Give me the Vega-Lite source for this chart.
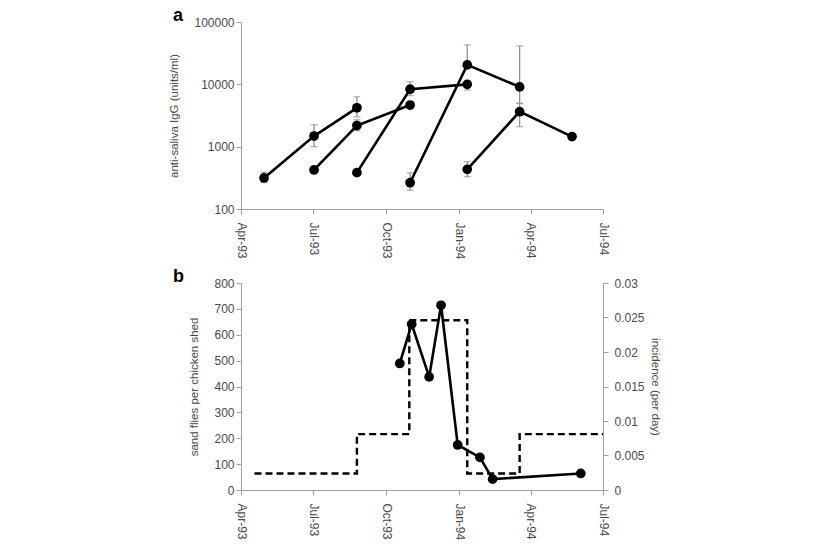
{
  "$schema": "https://vega.github.io/schema/vega-lite/v6.json",
  "background": "white",
  "padding": {"left": 168, "top": 7, "right": 0, "bottom": 0},
  "config": {
    "font": "Liberation Sans",
    "view": {"stroke": null},
    "axis": {
      "grid": false,
      "domainColor": "#a0a0a0",
      "tickColor": "#a0a0a0",
      "labelColor": "#4a4a4a",
      "titleColor": "#4a4a4a",
      "labelFont": "Liberation Sans",
      "titleFont": "Liberation Sans",
      "labelFontSize": 12,
      "titleFontSize": 11.5,
      "titleFontWeight": "normal",
      "tickSize": 5,
      "labelOverlap": false
    },
    "axisX": {"labelPadding": 8},
    "title": {"font": "Liberation Sans", "fontSize": 18, "fontWeight": "bold", "color": "#000000"}
  },
  "datasets": {
    "igg": [
      {"s": "1", "date": "1993-04-30T00:00", "v": 315, "lo": 265, "hi": 390},
      {"s": "1", "date": "1993-07-02T00:00", "v": 1480, "lo": 1000, "hi": 2250},
      {"s": "1", "date": "1993-08-25T00:00", "v": 4200, "lo": 3000, "hi": 6300},
      {"s": "2", "date": "1993-07-02T00:00", "v": 423, "lo": null, "hi": null},
      {"s": "2", "date": "1993-08-25T00:00", "v": 2180, "lo": 1800, "hi": 2700},
      {"s": "2", "date": "1993-10-31T00:00", "v": 4650, "lo": null, "hi": null},
      {"s": "3", "date": "1993-08-25T00:00", "v": 383, "lo": null, "hi": null},
      {"s": "3", "date": "1993-10-31T00:00", "v": 8360, "lo": 6600, "hi": 11000},
      {"s": "3", "date": "1994-01-11T00:00", "v": 10000, "lo": 8100, "hi": 11200},
      {"s": "4", "date": "1993-10-31T00:00", "v": 264, "lo": 200, "hi": 380},
      {"s": "4", "date": "1994-01-11T00:00", "v": 20500, "lo": 20500, "hi": 42800},
      {"s": "4", "date": "1994-03-18T00:00", "v": 9100, "lo": 5000, "hi": 41300},
      {"s": "5", "date": "1994-01-11T00:00", "v": 433, "lo": 330, "hi": 575},
      {"s": "5", "date": "1994-03-18T00:00", "v": 3640, "lo": 2090, "hi": 4900},
      {"s": "5", "date": "1994-05-23T00:00", "v": 1450, "lo": null, "hi": null}
    ],
    "flies": [
      {"date": "1993-10-18T00:00", "n": 489},
      {"date": "1993-11-02T00:00", "n": 641},
      {"date": "1993-11-24T00:00", "n": 437},
      {"date": "1993-12-09T00:00", "n": 714},
      {"date": "1993-12-30T00:00", "n": 174},
      {"date": "1994-01-27T00:00", "n": 126},
      {"date": "1994-02-12T00:00", "n": 42},
      {"date": "1994-06-03T00:00", "n": 64}
    ],
    "incidence": [
      {"date": "1993-04-18T00:00", "inc": 0.0024},
      {"date": "1993-08-25T00:00", "inc": 0.0081},
      {"date": "1993-10-30T00:00", "inc": 0.0246},
      {"date": "1994-01-11T00:00", "inc": 0.0024},
      {"date": "1994-03-18T00:00", "inc": 0.0081},
      {"date": "1994-07-01T00:00", "inc": 0.0081}
    ]
  },
  "spacing": 9,
  "vconcat": [
    {
      "width": 362,
      "height": 187,
      "title": {"text": "a", "anchor": "start", "frame": "group", "dx": -68, "offset": -9},
      "data": {"name": "igg"},
      "encoding": {
        "x": {
          "field": "date", "type": "temporal",
          "scale": {"domain": [{"year": 1993, "month": 4, "date": 1}, {"year": 1994, "month": 7, "date": 1}]},
          "axis": {
            "title": null, "format": "%b-%y", "labelAngle": 90,
            "values": [
              {"year": 1993, "month": 4, "date": 1},
              {"year": 1993, "month": 7, "date": 1},
              {"year": 1993, "month": 10, "date": 1},
              {"year": 1994, "month": 1, "date": 1},
              {"year": 1994, "month": 4, "date": 1},
              {"year": 1994, "month": 7, "date": 1}
            ]
          }
        }
      },
      "layer": [
        {
          "transform": [{"filter": "datum.hi != null"}],
          "mark": {"type": "rule", "color": "#8a8a8a", "strokeWidth": 1.2},
          "encoding": {
            "y": {"field": "lo", "type": "quantitative"},
            "y2": {"field": "hi"}
          }
        },
        {
          "transform": [
            {"fold": ["lo", "hi"], "as": ["k", "e"]},
            {"filter": "datum.e != null && datum.e != datum.v"}
          ],
          "mark": {"type": "tick", "orient": "horizontal", "color": "#8a8a8a", "size": 7, "thickness": 1.2},
          "encoding": {
            "y": {"field": "e", "type": "quantitative"}
          }
        },
        {
          "mark": {"type": "line", "color": "#000000", "strokeWidth": 2.6},
          "encoding": {
            "y": {
              "field": "v", "type": "quantitative",
              "scale": {"type": "log", "domain": [100, 100000]},
              "axis": {"title": "anti-saliva IgG (units/ml)", "values": [100, 1000, 10000, 100000], "format": "d", "titlePadding": 14}
            },
            "detail": {"field": "s"}
          }
        },
        {
          "mark": {"type": "point", "filled": true, "color": "#000000", "opacity": 1, "size": 95},
          "encoding": {
            "y": {"field": "v", "type": "quantitative"}
          }
        }
      ]
    },
    {
      "width": 362,
      "height": 207,
      "title": {"text": "b", "anchor": "start", "frame": "group", "dx": -68, "offset": -9},
      "encoding": {
        "x": {
          "field": "date", "type": "temporal",
          "scale": {"domain": [{"year": 1993, "month": 4, "date": 1}, {"year": 1994, "month": 7, "date": 1}]},
          "axis": {
            "title": null, "format": "%b-%y", "labelAngle": 90,
            "values": [
              {"year": 1993, "month": 4, "date": 1},
              {"year": 1993, "month": 7, "date": 1},
              {"year": 1993, "month": 10, "date": 1},
              {"year": 1994, "month": 1, "date": 1},
              {"year": 1994, "month": 4, "date": 1},
              {"year": 1994, "month": 7, "date": 1}
            ]
          }
        }
      },
      "layer": [
        {
          "data": {"name": "flies"},
          "encoding": {
            "y": {
              "field": "n", "type": "quantitative",
              "scale": {"domain": [0, 800]},
              "axis": {"title": "sand flies per chicken shed", "values": [0, 100, 200, 300, 400, 500, 600, 700, 800], "titlePadding": 14}
            }
          },
          "layer": [
            {
              "mark": {"type": "line", "color": "#000000", "strokeWidth": 2.6}
            },
            {
              "mark": {"type": "point", "filled": true, "color": "#000000", "opacity": 1, "size": 95}
            }
          ]
        },
        {
          "data": {"name": "incidence"},
          "mark": {"type": "line", "color": "#000000", "strokeWidth": 2.4, "strokeDash": [7, 4], "interpolate": "step-after"},
          "encoding": {
            "y": {
              "field": "inc", "type": "quantitative",
              "scale": {"domain": [0, 0.03]},
              "axis": {"orient": "right", "title": "incidence (per day)", "values": [0, 0.005, 0.01, 0.015, 0.02, 0.025, 0.03], "format": ".3~f", "labelPadding": 6, "titlePadding": 5}
            }
          }
        }
      ],
      "resolve": {"scale": {"y": "independent"}}
    }
  ]
}
